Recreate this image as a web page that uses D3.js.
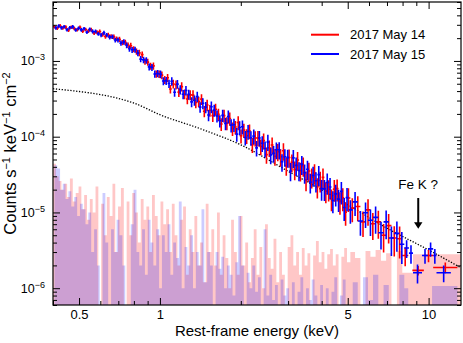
<!DOCTYPE html>
<html>
<head>
<meta charset="utf-8">
<script src="https://cdn.jsdelivr.net/npm/d3@7"></script>
<style>
  body { margin: 0; background: #fff; }
  svg { display: block; font-family: "Liberation Sans", Arial, Helvetica, sans-serif; }
</style>
</head>
<body>
<div id="chart"></div>
<script>
// spectra are in units of 1e-6 counts s^-1 keV^-1 cm^-2
var UNIT = 1e-6;

// bin centres (keV), 2017 May 14
var energy14 = [
  0.405, 0.415, 0.425, 0.435, 0.446, 0.457, 0.468, 0.480, 0.492, 0.504,
  0.516, 0.529, 0.542, 0.555, 0.569, 0.583, 0.597, 0.612, 0.627, 0.642,
  0.658, 0.674, 0.690, 0.707, 0.725, 0.743, 0.761, 0.779, 0.798, 0.818,
  0.838, 0.859, 0.880, 0.901, 0.923, 0.946, 0.969, 0.993, 1.017, 1.042,
  1.068, 1.094, 1.121, 1.148, 1.176, 1.205, 1.235, 1.265, 1.296, 1.328,
  1.360, 1.394, 1.428, 1.463, 1.499, 1.535, 1.573, 1.611, 1.651, 1.691,
  1.733, 1.775, 1.819, 1.863, 1.909, 1.956, 2.004, 2.053, 2.103, 2.155,
  2.208, 2.262, 2.317, 2.374, 2.432, 2.492, 2.553, 2.616, 2.680, 2.746,
  2.813, 2.882, 2.953, 3.025, 3.099, 3.175, 3.253, 3.333, 3.415, 3.498,
  3.584, 3.672, 3.762, 3.854, 3.949, 4.045, 4.145, 4.246, 4.350, 4.457,
  4.566, 4.678, 4.793, 4.910, 5.030, 5.20, 5.45, 5.70, 5.95, 6.20,
  6.50, 6.80, 7.10, 7.45, 7.80
];
// bin centres (keV), 2017 May 15
var energy15 = [
  0.410, 0.420, 0.430, 0.440, 0.451, 0.462, 0.474, 0.486, 0.498, 0.510,
  0.522, 0.535, 0.548, 0.562, 0.576, 0.590, 0.604, 0.619, 0.634, 0.650,
  0.666, 0.682, 0.698, 0.716, 0.734, 0.752, 0.770, 0.788, 0.808, 0.828,
  0.848, 0.869, 0.890, 0.912, 0.934, 0.957, 0.981, 1.005, 1.030, 1.055,
  1.081, 1.107, 1.134, 1.162, 1.190, 1.220, 1.250, 1.280, 1.312, 1.344,
  1.377, 1.411, 1.445, 1.481, 1.517, 1.554, 1.592, 1.631, 1.671, 1.712,
  1.754, 1.797, 1.841, 1.886, 1.932, 1.980, 2.028, 2.078, 2.129, 2.181,
  2.235, 2.289, 2.345, 2.403, 2.462, 2.522, 2.584, 2.648, 2.713, 2.779,
  2.847, 2.917, 2.989, 3.062, 3.137, 3.214, 3.293, 3.374, 3.456, 3.541,
  3.628, 3.717, 3.808, 3.901, 3.997, 4.095, 4.195, 4.298, 4.403, 4.511,
  4.622, 4.735, 4.851, 4.970, 5.115, 5.325, 5.575, 5.825, 6.075, 6.35,
  6.65, 6.95, 7.27, 7.62, 7.95
];

var may14 = [
  2834, 2701, 2903, 2728, 2796, 2558, 2787, 2681, 2586, 2777,
  2476, 2601, 2490, 2579, 2343, 2399, 2451, 2225, 2104, 2210,
  2110, 2080, 1960, 1930, 1750, 1760, 1620, 1590, 1430, 1330,
  1279, 1212, 986, 964, 855, 862, 676, 673, 650, 563,
  600, 427, 498, 485, 388, 458, 366, 315, 357, 354,
  283, 291, 313, 217, 262, 223, 190, 230, 197, 147,
  190, 151, 174, 128, 134, 154, 103, 122, 103, 119,
  78.5, 96.1, 96.3, 74.2, 88.9, 57.9, 71.6, 77.8, 55, 63.6,
  54.3, 65.1, 41.5, 53.2, 46, 36.8, 49.2, 35.5, 41.4, 26.9,
  35.2, 29.4, 33.2, 21.8, 26.4, 29, 19.1, 20.3, 15.2, 20.3,
  20.6, 13.9, 15.6, 10.1, 15.5, 11.4, 12, 7.5, 10.8, 7.1,
  7.5, 5.0, 6.7, 4.6, 4.5
];

var may15 = [
  2739, 2891, 2738, 2828, 2589, 2743, 2819, 2564, 2698, 2574,
  2668, 2398, 2610, 2445, 2453, 2280, 2199, 2348, 2197, 2064,
  2090, 1888, 1896, 1720, 1784, 1612, 1449, 1404, 1412, 1270,
  1058, 1034, 1021, 836, 823, 672, 683, 669, 543, 546,
  503, 540, 387, 495, 418, 364, 408, 363, 288, 303,
  338, 246, 276, 246, 193, 248, 224, 188, 162, 191,
  150, 185, 142, 144, 108, 132, 135, 97.7, 117, 97,
  101.6, 71.1, 96.3, 81.8, 69.7, 85.3, 57.5, 60.3, 67.2, 67.1,
  46.7, 54.3, 53, 35.3, 52.6, 41.8, 35.8, 43.4, 33.4, 37.2,
  25.1, 30.9, 26.2, 31.6, 20.6, 20.5, 24.9, 21.7, 14.4, 17.6,
  15, 19, 11.6, 15.7, 10.8, 13.8, 7.7, 9.9, 7.9, 8.6,
  5.4, 7.5, 4.6, 5.3, 3.8
];

// fractional 1-sigma errors, by bin index (both observations)
var fracErr = [
  0.055, 0.055, 0.055, 0.055, 0.055, 0.055, 0.055, 0.055, 0.055, 0.055,
  0.055, 0.055, 0.06, 0.06, 0.06, 0.06, 0.065, 0.065, 0.065, 0.07,
  0.07, 0.075, 0.075, 0.08, 0.08, 0.085, 0.085, 0.09, 0.09, 0.095,
  0.095, 0.1, 0.1, 0.105, 0.105, 0.11, 0.11, 0.115, 0.12, 0.12,
  0.125, 0.13, 0.13, 0.135, 0.14, 0.14, 0.145, 0.15, 0.15, 0.155,
  0.16, 0.16, 0.165, 0.17, 0.17, 0.175, 0.18, 0.18, 0.185, 0.19,
  0.19, 0.195, 0.2, 0.2, 0.205, 0.21, 0.21, 0.215, 0.22, 0.22,
  0.225, 0.23, 0.23, 0.235, 0.24, 0.24, 0.245, 0.25, 0.25, 0.255,
  0.26, 0.26, 0.265, 0.27, 0.27, 0.275, 0.28, 0.28, 0.285, 0.29,
  0.29, 0.295, 0.3, 0.3, 0.305, 0.31, 0.31, 0.315, 0.32, 0.32,
  0.325, 0.33, 0.335, 0.34, 0.345, 0.35, 0.36, 0.37, 0.38, 0.39,
  0.4, 0.41, 0.42, 0.43, 0.45
];

// wide high-energy bins: [eLo, eHi, value, error]
var tail14 = [[7.97, 8.4, 2.7, 0.75], [8.7, 9.6, 1.72, 0.25], [9.6, 10.4, 2.7, 0.5], [10.4, 12.8, 1.88, 0.3]];
var tail15 = [[8.12, 8.45, 3.4, 0.9], [8.45, 8.75, 2.9, 0.8], [8.75, 9.45, 1.6, 0.45], [9.45, 9.95, 2.7, 0.6],
              [9.95, 10.4, 3.3, 0.7], [10.4, 10.7, 2.7, 0.6], [10.7, 12.1, 1.6, 0.4]];

// background spectra on the same bins
var bkg14 = [
  44, 30, 26, 20, 24, 16, 28, 14, 18, 22,
  11, 17, 8, 15, 10, 22, 0.4, 13, 5, 16,
  9, 24, 3, 12, 21, 0.4, 14, 5, 18, 10,
  4, 15, 8, 12, 3, 17, 9, 5, 14, 7,
  11, 3, 13, 5, 2, 8, 12, 1.5, 6, 3,
  9, 2, 4, 1.2, 13, 3, 6, 2, 10, 1.5,
  5, 2.5, 1, 8, 3, 1.5, 9, 2, 4, 1.2,
  2.5, 6, 1.5, 3.5, 1, 7, 2.5, 1.8, 4.5, 1.2,
  3, 1.5, 0.4, 3.5, 5, 2, 3, 1.5, 3.4, 2,
  2.9, 0.5, 2.7, 4.2, 2.2, 3, 1.8, 2.8, 3.3, 2,
  2.8, 0.4, 2.6, 3.4, 2.2, 3, 2.5, 0.4, 3.1, 2.6,
  3.2, 2.3, 2.9, 0.4, 3.1
];
var bkg15 = [
  42, 38, 20, 24, 15, 19, 12, 16, 9, 13,
  11, 7, 10, 3, 6, 2, 0.4, 18, 4, 0.3,
  6, 3, 8, 5, 2, 0.4, 0.4, 7, 20, 3,
  2, 6, 1.5, 8, 4, 2, 6, 1, 5, 3,
  7, 1.5, 4, 2.5, 14, 1, 3.5, 2, 5, 1,
  3, 2, 11, 1.2, 3, 2, 0.5, 3, 1.8, 2.6,
  1, 2, 1.5, 0.8, 2.2, 9, 2, 0.6, 1.6, 1,
  2, 0.9, 1.4, 0.5, 6, 0.8, 1.5, 0.7, 1.1, 0.5,
  1.3, 0.8, 1, 0.6, 1.2, 0.5, 0.9, 1.4, 0.6, 1,
  0.7, 1.3, 0.8, 0.5, 1.1, 0.6, 1, 0.4, 0.9, 1.4,
  0.5, 0.8, 1.3, 0.6, 0.4, 1.2, 0.5, 1.4, 0.7, 1.5,
  0.5, 1.1, 0.6, 0.5, 1.5
];
// background wide bins: [eLo, eHi, value]
var bkgTail14 = [[7.97, 8.75, 1.6], [8.75, 14, 2.8]];
var bkgTail15 = [[8.12, 8.4, 1.0], [8.4, 10.3, 0.3], [10.3, 12.8, 1.07]];

// dotted model component
var modelE = [0.4, 0.5, 0.6, 0.7, 0.8, 1.0, 1.4, 2.0, 3.0, 5.0, 7.0, 10.0, 13.2];
var modelF = [4.3e-4, 3.95e-4, 3.6e-4, 3.2e-4, 2.78e-4, 1.95e-4, 1.29e-4, 7.8e-5, 3.5e-5, 1.27e-5, 6.2e-6, 3.2e-6, 1.86e-6];

var xMajor = [0.5, 1, 5, 10];
var yMajor = [1e-6, 1e-5, 1e-4, 1e-3];
var yExp = ['\u22126', '\u22125', '\u22124', '\u22123'];
var seriesNames = ['2017 May 14', '2017 May 15'];
var seriesColors = ['#ff0000', '#0000ff'];

var W = 463, H = 343,
    margin = {top: 2, right: 2, bottom: 38, left: 53},
    width = W - margin.left - margin.right,
    height = H - margin.top - margin.bottom;

var svg = d3.select('#chart').append('svg')
  .attr('width', W)
  .attr('height', H);

var g = svg.append('g')
  .attr('transform', 'translate(' + margin.left + ',' + margin.top + ')');

var x = d3.scaleLog().domain([0.4, 13.2]).range([0, width]);
var y = d3.scaleLog().domain([6e-7, 6e-3]).range([height, 0]).clamp(true);

g.append('clipPath').attr('id', 'plotclip')
  .append('rect').attr('width', width).attr('height', height);

var plot = g.append('g').attr('clip-path', 'url(#plotclip)');

// bin edges halfway (in log) between neighbouring centres
function binEdges(E) {
  return E.map(function (e, i) {
    var prev = i > 0 ? E[i - 1] : e * e / E[i + 1];
    var next = i < E.length - 1 ? E[i + 1] : e * e / E[i - 1];
    return [Math.sqrt(prev * e), Math.sqrt(e * next)];
  });
}

function bkgPath(E, vals, tail) {
  var bins = binEdges(E).map(function (b, i) { return [b[0], b[1], vals[i]]; }).concat(tail);
  return bins.map(function (b) {
    return 'M' + x(b[0]) + ',' + height + 'V' + y(b[2] * UNIT) + 'H' + x(b[1]) + 'V' + height + 'Z';
  }).join('');
}

function crossPath(E, vals, tail) {
  var bins = binEdges(E).map(function (b, i) {
    return {lo: b[0], hi: b[1], c: E[i], v: vals[i], err: vals[i] * fracErr[i]};
  });
  tail.forEach(function (t) {
    bins.push({lo: t[0], hi: t[1], c: Math.sqrt(t[0] * t[1]), v: t[2], err: t[3]});
  });
  return bins.map(function (d) {
    var yc = y(d.v * UNIT),
        yt = y((d.v + d.err) * UNIT),
        yb = y(Math.max(d.v - d.err, 1e-3) * UNIT);
    return 'M' + x(d.lo) + ',' + yc + 'H' + x(d.hi) + 'M' + x(d.c) + ',' + yt + 'V' + yb;
  }).join('');
}

// backgrounds
plot.append('path')
  .attr('d', bkgPath(energy14, bkg14, bkgTail14))
  .attr('fill', '#ff0000')
  .attr('fill-opacity', 0.22);
plot.append('path')
  .attr('d', bkgPath(energy15, bkg15, bkgTail15))
  .attr('fill', '#0000ff')
  .attr('fill-opacity', 0.2);

// model
var modelLine = d3.line()
  .x(function (d) { return x(d[0]); })
  .y(function (d) { return y(d[1]); })
  .curve(d3.curveMonotoneX);
plot.append('path')
  .attr('d', modelLine(d3.zip(modelE, modelF)))
  .attr('fill', 'none')
  .attr('stroke', '#000')
  .attr('stroke-width', 1.3)
  .attr('stroke-dasharray', '1.3,1.6');

// data
plot.append('path')
  .attr('d', crossPath(energy14, may14, tail14))
  .attr('fill', 'none')
  .attr('stroke', seriesColors[0])
  .attr('stroke-width', 1.6);
plot.append('path')
  .attr('d', crossPath(energy15, may15, tail15))
  .attr('fill', 'none')
  .attr('stroke', seriesColors[1])
  .attr('stroke-width', 1.6);

// axes, ticks pointing inward on all four sides
function isMajorY(t) { return Math.abs(Math.log10(t) - Math.round(Math.log10(t))) < 1e-9; }
var xMinor = x.ticks().filter(function (t) { return xMajor.indexOf(t) < 0; });
var yMinor = y.ticks().filter(function (t) { return !isMajorY(t); });

function clean(sel) {
  sel.select('.domain').remove();
  sel.selectAll('.tick line').attr('stroke', '#000').attr('stroke-width', 1);
}

g.append('g').attr('transform', 'translate(0,' + height + ')')
  .call(d3.axisBottom(x).tickValues(xMajor).tickSize(-7).tickPadding(5)
    .tickFormat(function (d) { return String(d); }))
  .call(clean)
  .attr('font-size', 13).attr('font-family', null)
  .selectAll('text').attr('fill', '#000');
g.append('g').attr('transform', 'translate(0,' + height + ')')
  .call(d3.axisBottom(x).tickValues(xMinor).tickSize(-4).tickFormat(''))
  .call(clean);
g.append('g')
  .call(d3.axisTop(x).tickValues(xMajor).tickSize(-7).tickFormat(''))
  .call(clean);
g.append('g')
  .call(d3.axisTop(x).tickValues(xMinor).tickSize(-4).tickFormat(''))
  .call(clean);

var yAxisG = g.append('g')
  .call(d3.axisLeft(y).tickValues(yMajor).tickSize(-7).tickPadding(8).tickFormat(''))
  .call(clean);
yAxisG.selectAll('.tick text').each(function (d, i) {
  var t = d3.select(this).attr('fill', '#000').attr('font-size', 12.5).attr('font-family', null);
  t.append('tspan').text('10');
  t.append('tspan').attr('dy', -5).attr('font-size', 9).text(yExp[i]);
});
g.append('g')
  .call(d3.axisLeft(y).tickValues(yMinor).tickSize(-4).tickFormat(''))
  .call(clean);
g.append('g').attr('transform', 'translate(' + width + ',0)')
  .call(d3.axisRight(y).tickValues(yMajor).tickSize(-7).tickFormat(''))
  .call(clean);
g.append('g').attr('transform', 'translate(' + width + ',0)')
  .call(d3.axisRight(y).tickValues(yMinor).tickSize(-4).tickFormat(''))
  .call(clean);

g.append('rect')
  .attr('width', width).attr('height', height)
  .attr('fill', 'none').attr('stroke', '#000').attr('stroke-width', 1.2);

// axis titles
svg.append('text')
  .attr('x', margin.left + width / 2).attr('y', 336)
  .attr('text-anchor', 'middle').attr('font-size', 15)
  .text('Rest-frame energy (keV)');

var yt = svg.append('text')
  .attr('transform', 'translate(15.5,' + (margin.top + height / 2) + ') rotate(-90)')
  .attr('text-anchor', 'middle').attr('font-size', 16.5);
yt.append('tspan').text('Counts s');
yt.append('tspan').attr('dy', -6).attr('font-size', 11).text('\u22121');
yt.append('tspan').attr('dy', 6).text(' keV');
yt.append('tspan').attr('dy', -6).attr('font-size', 11).text('\u22121');
yt.append('tspan').attr('dy', 6).text(' cm');
yt.append('tspan').attr('dy', -6).attr('font-size', 11).text('\u22122');

// legend
var legend = svg.append('g').attr('transform', 'translate(311,34.7)');
seriesNames.forEach(function (name, i) {
  var row = legend.append('g').attr('transform', 'translate(0,' + i * 19.3 + ')');
  row.append('line').attr('x1', 0).attr('x2', 28)
    .attr('stroke', seriesColors[i]).attr('stroke-width', 2);
  row.append('text').attr('x', 39).attr('dy', '0.35em')
    .attr('font-size', 13).text(name);
});

// Fe K annotation
var arrowE = 9.15;
g.append('text')
  .attr('x', x(arrowE)).attr('y', y(2.01e-5))
  .attr('text-anchor', 'middle').attr('font-size', 13.5)
  .text('Fe K ?');
g.append('line')
  .attr('x1', x(arrowE)).attr('x2', x(arrowE))
  .attr('y1', y(1.55e-5)).attr('y2', y(7.2e-6))
  .attr('stroke', '#000').attr('stroke-width', 2);
g.append('path')
  .attr('d', 'M' + (x(arrowE) - 4.2) + ',' + y(7.4e-6) + 'L' + (x(arrowE) + 4.2) + ',' + y(7.4e-6) +
             'L' + x(arrowE) + ',' + y(6.1e-6) + 'Z')
  .attr('fill', '#000');
</script>
</body>
</html>
